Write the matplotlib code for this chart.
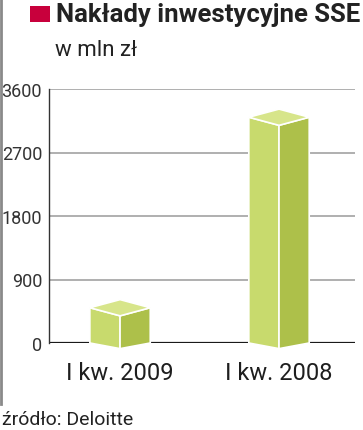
import matplotlib.pyplot as plt
from matplotlib.patches import Rectangle, Polygon
from matplotlib.lines import Line2D

# data
categories = ["I kw. 2009", "I kw. 2008"]
values = [500, 3200]
y_ticks = [0, 900, 1800, 2700, 3600]

title = "Nakłady inwestycyjne SSE"
subtitle = "w mln zł"
source = "źródło: Deloitte"

FONT = ["Roboto", "DejaVu Sans"]
COND = ["Liberation Sans Narrow", "Roboto", "DejaVu Sans"]

fig = plt.figure(figsize=(3.63, 4.31), dpi=100)
W, H = 363, 431

def fx(px):
    return px / W

def fy(py):
    return 1 - py / H

ax = fig.add_axes([fx(49), fy(344), fx(355) - fx(49), fy(90) - fy(344)])
ax.set_xlim(-0.447, 1.478)
ax.set_ylim(0, 3600)

# grid + baseline
for t in y_ticks[1:]:
    ax.axhline(t, color="#9a9a9a", lw=1.1, zorder=1)
ax.axhline(0, color="#1a1a1a", lw=1.6, zorder=1)

for s in ["top", "right", "bottom"]:
    ax.spines[s].set_visible(False)
ax.spines["left"].set_color("#333333")
ax.spines["left"].set_linewidth(1.0)

ax.set_yticks(y_ticks)
ax.set_yticklabels([str(t) for t in y_ticks], fontsize=13, color="#333333",
                   family=COND)
ax.tick_params(axis="y", length=0, pad=5)

ax.set_xticks(range(len(categories)))
ax.set_xticklabels(categories, fontsize=17, color="#1e1e1e", family=FONT)
ax.tick_params(axis="x", length=0, pad=13)

# pseudo-3D bars
half = 0.19
depth = 115
dip = 80
c_left, c_right, c_top = "#c8da6d", "#adc04a", "#d7e58a"
for i, v in enumerate(values):
    left = Polygon([(i - half, 0), (i, -dip), (i, v - depth), (i - half, v)],
                   closed=True, fc=c_left, ec="white", lw=1.2, zorder=3, clip_on=False)
    right = Polygon([(i, -dip), (i + half, 0), (i + half, v), (i, v - depth)],
                    closed=True, fc=c_right, ec="white", lw=1.2, zorder=3, clip_on=False)
    top = Polygon([(i - half, v), (i, v + depth), (i + half, v), (i, v - depth)],
                  closed=True, fc=c_top, ec="white", lw=1.2, zorder=4, clip_on=False)
    for p in (left, right, top):
        ax.add_patch(p)

# header
fig.patches.append(Rectangle((fx(30), fy(23)), fx(20), fy(7) - fy(23),
                             transform=fig.transFigure, fc="#c8003c", ec="none"))
fig.text(fx(56), fy(15), title, fontsize=18.5, fontweight="bold", color="#222222",
         family=COND, va="center", ha="left")
fig.text(fx(55), fy(50), subtitle, fontsize=16, color="#222222",
         family=FONT, va="center", ha="left")
fig.text(fx(2), fy(420), source, fontsize=14, color="#222222",
         family=COND, va="center", ha="left")

# left border
fig.add_artist(Line2D([fx(1), fx(1)], [fy(0), fy(405)], transform=fig.transFigure,
                      color="#8a8a8a", lw=2))

fig.savefig("out.png", dpi=100)
